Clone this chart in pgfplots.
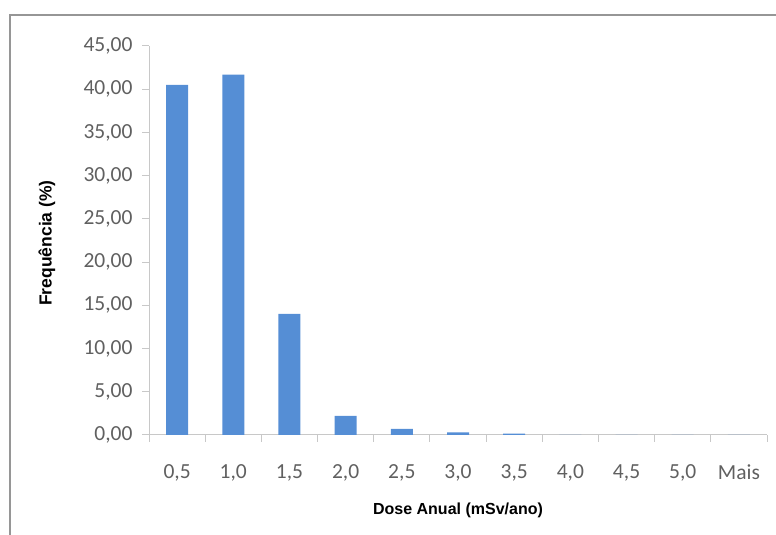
\documentclass[border=0pt]{standalone}
\usepackage{pgfplots}
\pgfplotsset{compat=1.18}
\usepackage{fontspec}
\setmainfont{Carlito}
\newfontfamily\arialf{Liberation Sans}
\definecolor{barblue}{RGB}{85,142,213}
\definecolor{ticktxt}{RGB}{96,96,96}
\definecolor{axgray}{RGB}{200,200,200}
\definecolor{framegray}{RGB}{150,150,150}
\begin{document}
\begin{tikzpicture}[x=1pt,y=1pt]
\path[use as bounding box] (0,0) rectangle (776,535);
\draw[framegray, line width=2.5pt] (10,-2) -- (10,520) -- (778,520);
\begin{axis}[
  at={(149pt,100pt)}, anchor=south west,
  scale only axis, width=618pt, height=389pt,
  xmin=-0.5, xmax=10.5, ymin=0, ymax=45,
  axis x line*=bottom, axis y line*=left,
  axis line style={axgray, line width=1pt, -},
  tick align=outside, major tick length=7pt,
  tick style={axgray, line width=1pt},
  xtick={-0.5,0.5,...,10.5}, xticklabels={},
  extra x ticks={0,1,2,3,4,5,6,7,8,9,10},
  extra x tick labels={{0,5},{1,0},{1,5},{2,0},{2,5},{3,0},{3,5},{4,0},{4,5},{5,0},Mais},
  extra x tick style={tick style={draw=none}},
  ytick={0,5,...,45},
  /pgf/number format/.cd, fixed, fixed zerofill, precision=2, use comma, assume math mode=true,
  /pgfplots/.cd,
  ticklabel style={font=\fontsize{21.5}{25}\selectfont, text=ticktxt},
  xticklabel style={yshift=-19pt},
  yticklabel style={xshift=-6pt},
  ybar, bar width=22pt,
]
\addplot[fill=barblue, draw=none] coordinates {
(0,40.5) (1,41.7) (2,14.0) (3,2.2) (4,0.7) (5,0.3) (6,0.15) (7,0) (8,0) (9,0) (10,0)};
\end{axis}
\node[font=\arialf\bfseries\fontsize{16}{19}\selectfont] at (458,25) {Dose Anual (mSv/ano)};
\node[font=\arialf\bfseries\fontsize{17.5}{21}\selectfont, rotate=90] at (47,292) {Frequência (\%)};
\end{tikzpicture}
\end{document}
